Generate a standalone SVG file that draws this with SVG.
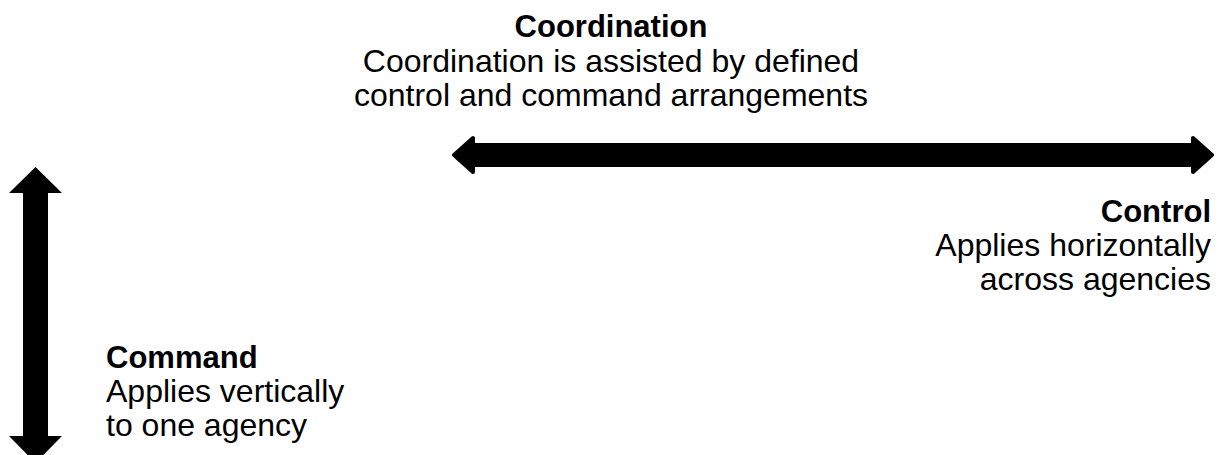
<svg xmlns="http://www.w3.org/2000/svg" width="1223" height="455" viewBox="0 0 1223 455">
<style>
text{font-family:"Liberation Sans",Arial,sans-serif;font-size:32px;fill:#000}
.b{font-weight:bold;font-size:31px}
.arrow{fill:#000;stroke:#000}
</style>
<rect width="1223" height="455" fill="#fff"/>
<g id="connectors">
<path class="arrow" stroke-width="4" stroke-linejoin="round" d="M454,155 L473,138 L473,145 L1193,145 L1193,138 L1212,155 L1193,172 L1193,165 L473,165 L473,172 Z"/>
<path class="arrow" stroke-width="0" d="M35.5,167 L62,193 L48,193 L48,436 L62,436 L35.5,463 L9,436 L23,436 L23,193 L9,193 Z"/>
</g>
<g id="coordination">
<text class="b" x="611" y="37" text-anchor="middle">Coordination</text>
<text x="611" y="72" text-anchor="middle">Coordination is assisted by defined</text>
<text x="611" y="106" text-anchor="middle">control and command arrangements</text>
</g>
<g id="control">
<text class="b" x="1211" y="222" text-anchor="end">Control</text>
<text x="1211" y="256" text-anchor="end">Applies horizontally</text>
<text x="1211" y="290" text-anchor="end">across agencies</text>
</g>
<g id="command">
<text class="b" x="106" y="368">Command</text>
<text x="106" y="402">Applies vertically</text>
<text x="106" y="436">to one agency</text>
</g>
</svg>
